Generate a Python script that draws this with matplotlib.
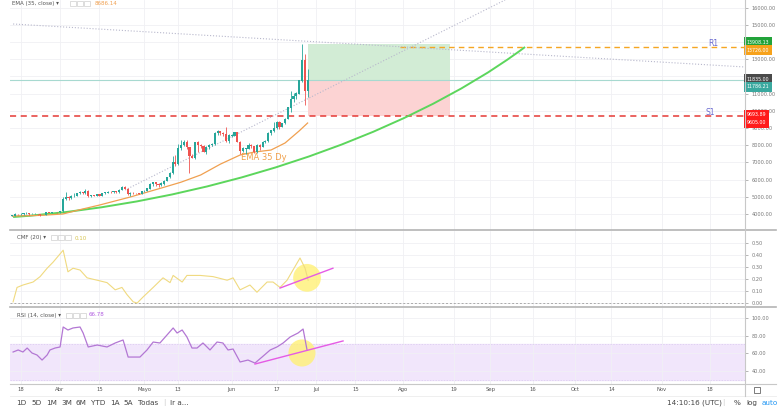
import matplotlib
matplotlib.use('Agg')
import matplotlib.pyplot as plt
import matplotlib.dates as mdates
from matplotlib.path import Path
from matplotlib.patches import PathPatch, Rectangle
from matplotlib.lines import Line2D
import numpy as np
import pandas as pd

#--- Velas diarias (15 mar - 28 jun 2019)
fechas = pd.date_range('2019-03-15', '2019-06-28', freq='D')
cierres = [3900, 4000, 3980, 3990, 4030, 4060, 4000, 4010, 4010, 4000, 3920, 3940, 4080, 4060, 4120, 4120, 4105,
           4150, 4880, 4970, 4920, 5040, 5060, 5200, 5280, 5200, 5340, 5040, 5080, 5070, 5160, 5040, 5210, 5240,
           5290, 5280, 5320, 5270, 5390, 5530, 5460, 5180, 5230, 5210, 5200, 5160, 5320,
           5350, 5470, 5750, 5830, 5740, 5690, 5760, 5930, 6150, 6360, 6980, 6880, 7820, 7990, 8200, 7880, 7350,
           7260, 8190, 7990, 7950, 7620, 7880, 7990, 8050, 8700, 8800, 8720, 8660, 8270, 8550,
           8560, 8740, 8180, 7680, 7800, 7800, 8000, 7930, 7630, 8010, 7920, 8180, 8230, 8690, 8840, 8990, 9330,
           9080, 9270, 9530, 10180, 10690, 10870, 11000, 11760, 12930, 11150, 11790]
maximos = [3920, 4060, 4010, 4040, 4060, 4090, 4070, 4050, 4030, 4020, 4010, 3970, 4100, 4080, 4140, 4140, 4120,
           4170, 5000, 5300, 5050, 5080, 5200, 5250, 5350, 5290, 5470, 5420, 5120, 5110, 5190, 5190, 5230, 5270,
           5320, 5340, 5350, 5340, 5430, 5620, 5600, 5500, 5280, 5270, 5250, 5220, 5330,
           5390, 5510, 5800, 5870, 5850, 5780, 5880, 5990, 6180, 6440, 7400, 7450, 8090, 8300, 8280, 8290, 7900,
           7480, 8200, 8260, 8050, 8010, 7940, 8060, 8140, 8760, 8900, 8850, 8760, 9080, 8650,
           8650, 8790, 8760, 8220, 7900, 7850, 8100, 8050, 7960, 8090, 8050, 8270, 8310, 8750, 8870, 9340, 9400,
           9400, 9300, 9580, 10200, 11150, 11050, 11100, 11780, 13880, 13330, 12450]
minimos = [3860, 3890, 3960, 3960, 3970, 4010, 3960, 3990, 3990, 3970, 3880, 3920, 3930, 4030, 4050, 4090, 4080,
           4080, 4140, 4800, 4810, 4900, 5000, 5040, 5150, 5150, 5150, 4980, 4960, 5030, 5050, 5030, 5020, 5180,
           5220, 5240, 5250, 5250, 5250, 5370, 5430, 5100, 5070, 5160, 5180, 5150, 5150,
           5300, 5340, 5460, 5650, 5600, 5580, 5640, 5710, 5920, 6110, 6350, 6780, 6850, 7700, 7950, 7770, 6400,
           7240, 7200, 7600, 7810, 7580, 7500, 7790, 7930, 8030, 8600, 8620, 8540, 8200, 8150,
           8480, 8540, 8160, 7500, 7630, 7500, 7780, 7820, 7540, 7550, 7700, 7880, 8130, 8200, 8620, 8790, 8960,
           8960, 9030, 9210, 9520, 9940, 10530, 10700, 10950, 11700, 10350, 10800]
aperturas = [3870] + cierres[:-1]

#--- EMA 35
ema_fechas = ['2019-03-15', '2019-03-25', '2019-04-02', '2019-04-08', '2019-04-15', '2019-04-26', '2019-05-07',
              '2019-05-14', '2019-05-21', '2019-05-28', '2019-06-04', '2019-06-09', '2019-06-15', '2019-06-20',
              '2019-06-25', '2019-06-28']
ema_vals = [3880, 3920, 4000, 4250, 4520, 4990, 5510, 5850, 6270, 6900, 7430, 7600, 7720, 8130, 8830, 9290]

#--- CMF (20), dias contados desde el 1 de abril
cmf_dias = [-16.7, -15.3, -13.2, -9.6, -7.1, -4.6, -2.5, 1.1, 2.8, 4.6, 7.1, 9.6, 13.2, 16.7, 19.6, 22.0, 23.8,
            26.0, 27.4, 29.5, 33.1, 36.6, 39.1, 40.2, 43.4, 45.1, 49.8, 54.4, 59.4, 61.5, 64.0, 67.5, 70.0, 73.6,
            75.7, 78.2, 80.7, 82.8, 85.3, 87.1, 88.2]
cmf_vals = [0.01, 0.13, 0.15, 0.175, 0.22, 0.29, 0.34, 0.44, 0.26, 0.29, 0.275, 0.21, 0.19, 0.17, 0.11, 0.13, 0.07,
            0.01, 0.0, 0.05, 0.13, 0.21, 0.17, 0.23, 0.175, 0.23, 0.23, 0.22, 0.19, 0.21, 0.11, 0.15, 0.09, 0.175,
            0.175, 0.13, 0.19, 0.275, 0.375, 0.29, 0.19]

#--- RSI (14)
rsi_dias = [-16.7, -14.9, -13.2, -11.7, -10.0, -8.2, -6.4, -4.6, -3.6, -1.8, 0.0, 1.1, 2.8, 4.6, 7.1, 8.2, 10.0,
            13.2, 16.7, 19.6, 22.4, 24.2, 28.4, 30.9, 33.1, 35.5, 38.0, 40.2, 41.6, 43.4, 45.1, 46.9, 48.7, 50.8,
            53.3, 55.8, 57.9, 59.7, 61.5, 64.0, 66.8, 69.3, 71.8, 74.7, 77.1, 79.3, 81.8, 84.6, 86.4, 87.8]
rsi_vals = [61.5, 63.8, 61.5, 66.0, 60.4, 58.1, 52.4, 58.1, 63.8, 66.0, 67.2, 89.8, 86.4, 88.7, 89.8, 83.0, 67.2,
            69.4, 67.2, 71.7, 75.1, 55.8, 55.8, 63.8, 72.8, 71.7, 80.7, 88.7, 83.0, 86.4, 78.5, 66.0, 66.0, 71.7,
            63.8, 72.8, 71.7, 63.8, 64.9, 50.2, 52.4, 49.0, 55.8, 63.8, 67.2, 71.7, 78.5, 83.0, 87.5, 63.8]

#--- Dibujos sobre el grafico
curva_dias = [-16.7, 49.8, 120.9, 165.3]
curva_precios = [3826, 4581, 8302, 13709]
linea_baja_dias = [-16.7, 243.5]
linea_baja_precios = [15047, 12547]
linea_alza_dias = [23.1, 158.2]
linea_alza_precios = [5395, 16442]
caja_dias = [88.2, 138.6]
objetivo, entrada, stop = 13900, 11791, 9698
r1_precio, r1_desde = 13727, 120.9
cmf_tend_dias, cmf_tend_vals = [78.2, 97.0], [0.125, 0.29]
rsi_tend_dias, rsi_tend_vals = [69.3, 100.6], [47.9, 74.0]

etiq_textos = ['13908.13', '13726.00', '11835.00', '11786.21', '9693.89', '9605.00']
etiq_precios = [14000, 13535, 11849, 11384, 9756, 9291]
etiq_colores = ['#22a33a', '#f7a21b', '#4a4a4a', '#3aa99f', '#ff1a1a', '#ff1a1a']

precio_ticks = list(range(4000, 17000, 1000))
precio_ocultos = [12000, 14000]   # tapados por las etiquetas de color
cmf_ticks = [0.0, 0.1, 0.2, 0.3, 0.4, 0.5]
rsi_ticks = [40, 60, 80, 100]
tick_fechas = ['2019-03-18', '2019-04-01', '2019-04-15', '2019-05-01', '2019-05-13', '2019-06-01', '2019-06-17',
               '2019-07-01', '2019-07-15', '2019-08-01', '2019-08-19', '2019-09-01', '2019-09-16', '2019-10-01',
               '2019-10-14', '2019-11-01', '2019-11-18']
tick_etiquetas = ['18', 'Abr', '15', 'Mayo', '13', 'Jun', '17', 'Jul', '15', 'Ago', '19', 'Sep', '16', 'Oct',
                  '14', 'Nov', '18']

#--- Figura
W, H = 781, 420
def fx(x):
    return x / W
def fy(y):
    return 1 - y / H

fig = plt.figure(figsize=(7.81, 4.20), dpi=100)
izq, ancho = fx(10), (745 - 10) / W
ax = fig.add_axes([izq, fy(230), ancho, 230 / H])
ax_cmf = fig.add_axes([izq, fy(307), ancho, 76 / H])
ax_rsi = fig.add_axes([izq, fy(384), ancho, 76 / H])

base = mdates.date2num(pd.Timestamp('2019-04-01'))
xs = mdates.date2num(fechas)
xt = mdates.date2num(pd.to_datetime(tick_fechas))

for a in (ax, ax_cmf, ax_rsi):
    a.set_xlim(base - 17.8, base + 243.5)
    for s in a.spines.values():
        s.set_visible(False)
    a.set_xticks(xt)
    a.grid(True, color='#f0f0f4', lw=0.6)
    a.set_axisbelow(True)
    a.yaxis.tick_right()
    a.tick_params(axis='y', length=2, width=0.5, colors='#999', labelsize=3.6, pad=3, labelcolor='#777')
    a.tick_params(axis='x', length=0, labelbottom=False)

#--- Panel principal
ax.set_ylim(3070, 16442)
ax.set_yticks(precio_ticks)
ax.set_yticklabels(['' if v in precio_ocultos else '%.2f' % v for v in precio_ticks])

ax.add_patch(Rectangle((base + caja_dias[0], entrada), caja_dias[1] - caja_dias[0], objetivo - entrada,
                       fc='#d2ecd5', ec='none', zorder=1))
ax.add_patch(Rectangle((base + caja_dias[0], stop), caja_dias[1] - caja_dias[0], entrada - stop,
                       fc='#fcd3d3', ec='none', zorder=1))
ax.axhline(entrada, color='#a7d9d0', lw=0.8, zorder=1.5)
ax.axhline(stop, color='#e53935', lw=1.1, ls=(0, (4, 3)), zorder=2)
ax.hlines(r1_precio, base + r1_desde, base + 243.5, color='#f5a623', lw=1.0, ls=(0, (4, 3)), zorder=2)
ax.plot(base + np.array(linea_baja_dias), linea_baja_precios, ls=':', color='#b8b8cc', lw=0.8)
ax.plot(base + np.array(linea_alza_dias), linea_alza_precios, ls=':', color='#b8b8cc', lw=0.8)

verts = list(zip(base + np.array(curva_dias), curva_precios))
ax.add_patch(PathPatch(Path(verts, [Path.MOVETO, Path.CURVE4, Path.CURVE4, Path.CURVE4]),
                       fill=False, ec='#5cd65c', lw=1.4, zorder=2))
ax.plot(mdates.date2num(pd.to_datetime(ema_fechas)), ema_vals, color='#f0a050', lw=0.9, zorder=2)

o = np.array(aperturas); c = np.array(cierres)
col = np.where(c >= o, '#26a69a', '#ef5350')
ax.vlines(xs, minimos, maximos, colors=col, lw=0.6, zorder=3)
ax.bar(xs, np.abs(c - o) + 15, bottom=np.minimum(o, c), width=0.75, color=col, zorder=3)

ax.text(base + 64.3, 7314, 'EMA 35 Dy', color='#f0a04b', fontsize=6, va='center')
ax.text(base + 230.4, 13942, 'R1', color='#6a6ad0', fontsize=5.5, va='center')
ax.text(base + 229.3, 9930, 'S1', color='#6a6ad0', fontsize=5.5, va='center')

for t, p, cc in zip(etiq_textos, etiq_precios, etiq_colores):
    ax.text(1.002, p, t, transform=ax.get_yaxis_transform(), fontsize=3.4, color='white', va='center', ha='left',
            bbox=dict(boxstyle='square,pad=0.55', fc=cc, ec='none'), zorder=6)

#--- CMF
ax_cmf.set_ylim(-0.033, 0.6)
ax_cmf.set_yticks(cmf_ticks)
ax_cmf.set_yticklabels(['%.2f' % v for v in cmf_ticks])
ax_cmf.axhline(0, color='#aaaaaa', lw=0.7, ls=(0, (2, 2)))
ax_cmf.scatter([base + 87.8], [0.21], s=400, color='#fff176', alpha=0.8, edgecolors='none', zorder=2)
ax_cmf.plot(base + np.array(cmf_dias), cmf_vals, color='#f0da80', lw=0.8, zorder=3)
ax_cmf.plot(base + np.array(cmf_tend_dias), cmf_tend_vals, color='#e55be5', lw=1.0, zorder=4)

#--- RSI
ax_rsi.set_ylim(25.3, 111.3)
ax_rsi.set_yticks(rsi_ticks)
ax_rsi.set_yticklabels(['%.2f' % v for v in rsi_ticks])
ax_rsi.axhspan(30, 70, color='#f1e6fb', zorder=0.5)
ax_rsi.axhline(70, color='#d9c8ef', lw=0.5, ls=(0, (2, 2)))
ax_rsi.axhline(30, color='#d9c8ef', lw=0.5, ls=(0, (2, 2)))
ax_rsi.scatter([base + 86.0], [60.4], s=380, color='#fff176', alpha=0.8, edgecolors='none', zorder=2)
ax_rsi.plot(base + np.array(rsi_dias), rsi_vals, color='#b377d4', lw=0.9, zorder=3)
ax_rsi.plot(base + np.array(rsi_tend_dias), rsi_tend_vals, color='#e55be5', lw=1.0, zorder=4)
ax_rsi.tick_params(axis='x', labelbottom=True, labelsize=3.8, labelcolor='#555', pad=2.5)
ax_rsi.set_xticklabels(tick_etiquetas)

#--- Separadores y eje derecho
def linea(x0, y0, x1, y1, color, lw):
    fig.add_artist(Line2D([fx(x0), fx(x1)], [fy(y0), fy(y1)], color=color, lw=lw))

linea(10, 230, 776, 230, '#b4b4b4', 1.2)
linea(10, 307, 776, 307, '#b4b4b4', 1.2)
linea(10, 384, 776, 384, '#c8c8c8', 0.8)
linea(10, 396, 776, 396, '#ececec', 0.6)
linea(745, 0, 745, 396, '#c8c8c8', 0.8)
fig.add_artist(Rectangle((fx(754), fy(393)), fx(6), 6 / H, transform=fig.transFigure,
                         fill=False, ec='#666', lw=0.6))

#--- Leyendas de los paneles
def cajitas(x, y, n):
    for i in range(n):
        fig.add_artist(Rectangle((fx(x + i * 7), fy(y + 2.5)), fx(5.5), 5 / H, transform=fig.transFigure,
                                 fill=False, ec='#cfcfcf', lw=0.5))

fig.text(fx(12), fy(3.5), 'EMA (35, close) \u25be', fontsize=4, color='#555', va='center')
cajitas(70, 3.5, 3)
fig.text(fx(95), fy(3.5), '8686.14', fontsize=4, color='#f0a050', va='center')
fig.text(fx(17), fy(238), 'CMF (20) \u25be', fontsize=4, color='#555', va='center')
cajitas(51, 238, 3)
fig.text(fx(75), fy(238), '0.10', fontsize=4, color='#d6c44d', va='center')
fig.text(fx(17), fy(315), 'RSI (14, close) \u25be', fontsize=4, color='#555', va='center')
cajitas(66, 315, 3)
fig.text(fx(89), fy(315), '66.78', fontsize=4, color='#b05ce0', va='center')

#--- Barra inferior
botones = ['1D', '5D', '1M', '3M', '6M', 'YTD', '1A', '5A', 'Todas', '|', 'Ir a...']
botones_x = [16, 31, 46, 61, 76, 91, 110, 123, 138, 163, 170]
for b, bx in zip(botones, botones_x):
    fig.text(fx(bx), fy(403), b, fontsize=5.2, color='#ccc' if b == '|' else '#444', va='center')
fig.text(fx(667), fy(403), '14:10:16 (UTC)', fontsize=5.2, color='#444', va='center')
fig.text(fx(722), fy(403), '|', fontsize=5.2, color='#ccc', va='center')
fig.text(fx(734), fy(403), '%', fontsize=5.2, color='#444', va='center')
fig.text(fx(746), fy(403), 'log', fontsize=5.2, color='#444', va='center')
fig.text(fx(762), fy(403), 'auto', fontsize=5.2, color='#2196f3', va='center')

plt.savefig('out.png', dpi=100)
